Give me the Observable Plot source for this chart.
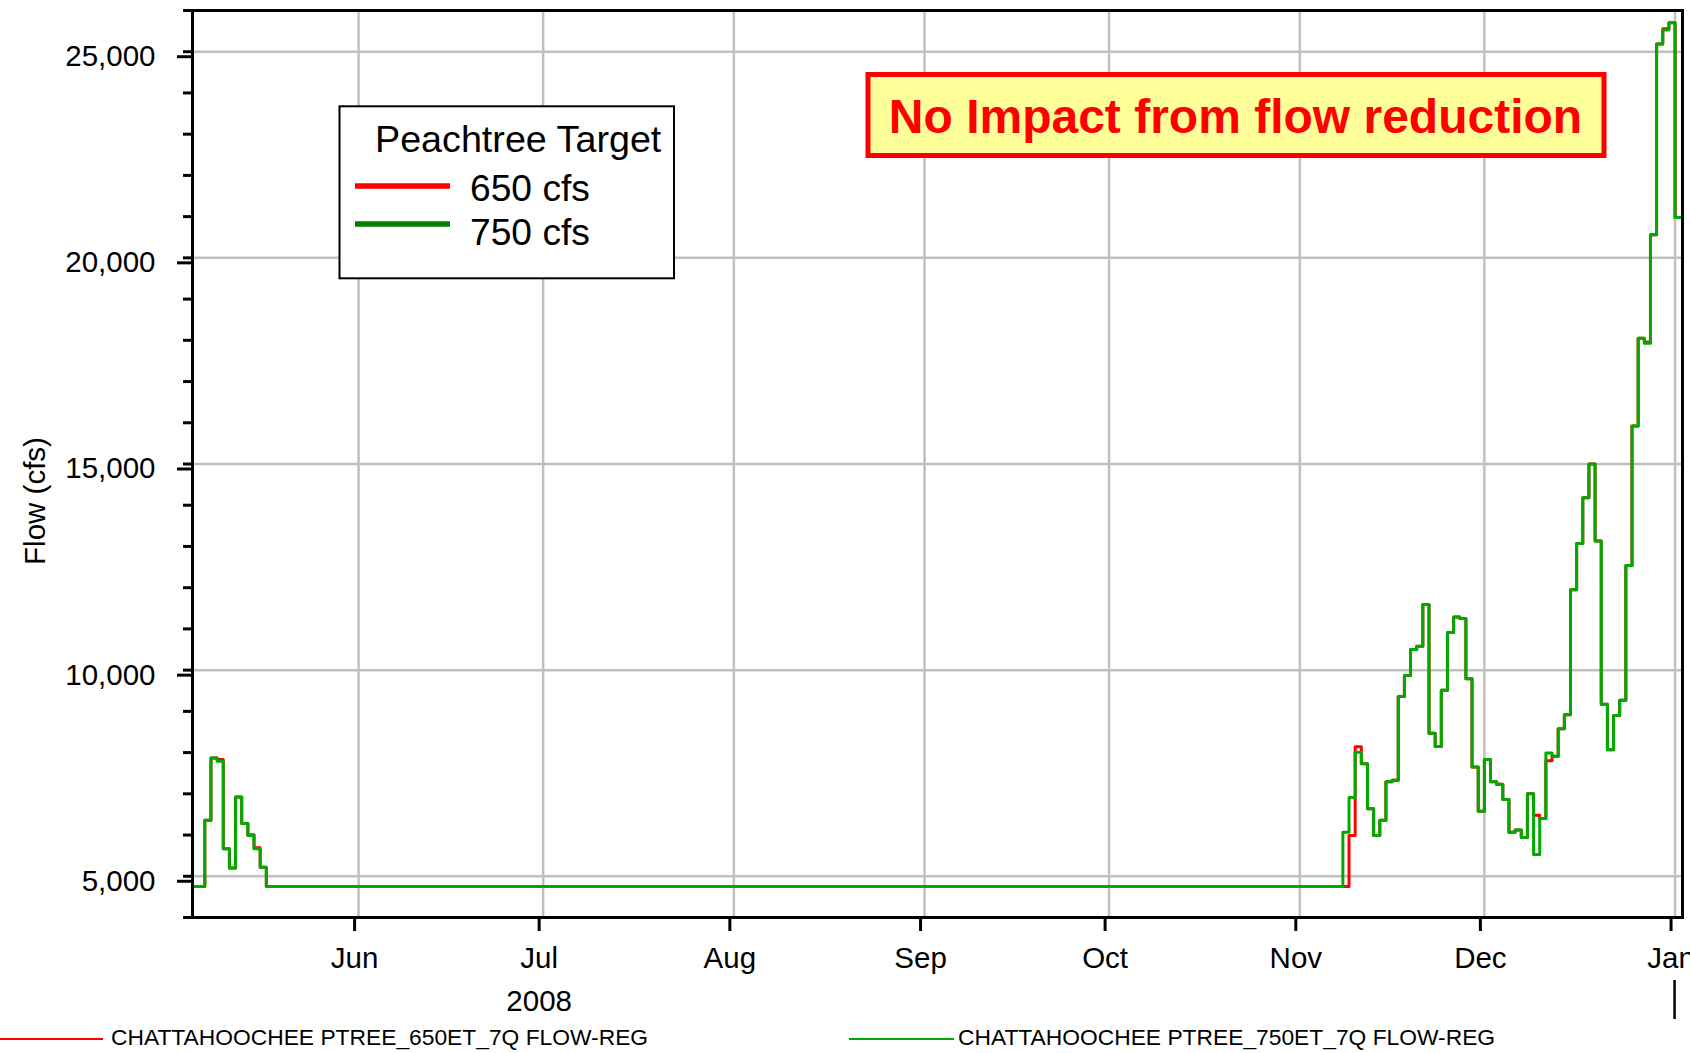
<!DOCTYPE html>
<html>
<head>
<meta charset="utf-8">
<script src="https://cdn.jsdelivr.net/npm/d3@7"></script>
<script src="https://cdn.jsdelivr.net/npm/@observablehq/plot@0.6"></script>
<style>
  html, body { margin: 0; padding: 0; background: #fff; }
  #wrap { position: relative; width: 1690px; height: 1053px; overflow: hidden;
          font-family: "Liberation Sans", Arial, sans-serif; }
  #chart svg { display: block; }
  #legend { position: relative; width: 1690px; height: 31px; }
  #legend .sw { position: absolute; }
  #legend .lbl { position: absolute; top: 0; line-height: 31px; font-size: 22.8px; color: #000; white-space: nowrap; }
</style>
</head>
<body>
<div id="wrap">
  <div id="chart"></div>
  <div id="legend"></div>
</div>
<script>
// ---- data (daily 7Q flow, cfs; each entry starts a step) ----
const dates750 = [
  "2008-05-05","2008-05-07","2008-05-08","2008-05-09","2008-05-10","2008-05-11","2008-05-12",
  "2008-05-13","2008-05-14","2008-05-15","2008-05-16","2008-05-17",
  "2008-11-08","2008-11-09","2008-11-10","2008-11-11","2008-11-12","2008-11-13","2008-11-14",
  "2008-11-15","2008-11-16","2008-11-17","2008-11-18","2008-11-19","2008-11-20","2008-11-21",
  "2008-11-22","2008-11-23","2008-11-24","2008-11-25","2008-11-26","2008-11-27","2008-11-28",
  "2008-11-29","2008-11-30","2008-12-01","2008-12-02","2008-12-03","2008-12-04","2008-12-05",
  "2008-12-06","2008-12-07","2008-12-08","2008-12-09","2008-12-10","2008-12-11","2008-12-12",
  "2008-12-13","2008-12-14","2008-12-15","2008-12-16","2008-12-17","2008-12-18","2008-12-19",
  "2008-12-20","2008-12-21","2008-12-22","2008-12-23","2008-12-24","2008-12-25","2008-12-26",
  "2008-12-27","2008-12-28","2008-12-29","2008-12-30","2008-12-31","2009-01-01","2009-01-03"
];
const flow750 = [
  4750, 6360, 7870, 7790, 5670, 5200, 6920,
  6280, 5990, 5670, 5220, 4750,
  6070, 6910, 8010, 7730, 6640, 5990, 6360,
  7290, 7330, 9360, 9870, 10500, 10580, 11590,
  8470, 8150, 9510, 10910, 11290, 11250, 9790,
  7650, 6580, 7830, 7290, 7230, 6860, 6070,
  6120, 5940, 7000, 5530, 6400, 7990, 7910,
  8580, 8920, 11950, 13070, 14180, 15000, 13130,
  9170, 8070, 8900, 9270, 12540, 15920, 18050,
  17930, 20560, 25190, 25530, 25700, 20980, 20980
];
const dates650 = [
  "2008-05-05","2008-05-07","2008-05-08","2008-05-09","2008-05-10","2008-05-11","2008-05-12",
  "2008-05-13","2008-05-14","2008-05-15","2008-05-16","2008-05-17",
  "2008-11-09","2008-11-10","2008-11-11","2008-11-12","2008-11-13","2008-11-14",
  "2008-11-15","2008-11-16","2008-11-17","2008-11-18","2008-11-19","2008-11-20","2008-11-21",
  "2008-11-22","2008-11-23","2008-11-24","2008-11-25","2008-11-26","2008-11-27","2008-11-28",
  "2008-11-29","2008-11-30","2008-12-01","2008-12-02","2008-12-03","2008-12-04","2008-12-05",
  "2008-12-06","2008-12-07","2008-12-08","2008-12-09","2008-12-10","2008-12-11","2008-12-12",
  "2008-12-13","2008-12-14","2008-12-15","2008-12-16","2008-12-17","2008-12-18","2008-12-19",
  "2008-12-20","2008-12-21","2008-12-22","2008-12-23","2008-12-24","2008-12-25","2008-12-26",
  "2008-12-27","2008-12-28","2008-12-29","2008-12-30","2008-12-31","2009-01-01","2009-01-03"
];
const flow650 = [
  4750, 6360, 7870, 7830, 5670, 5200, 6920,
  6280, 6010, 5690, 5220, 4750,
  5990, 8140, 7730, 6640, 5990, 6360,
  7290, 7330, 9360, 9870, 10500, 10580, 11590,
  8470, 8150, 9510, 10910, 11290, 11250, 9790,
  7650, 6580, 7830, 7290, 7230, 6860, 6070,
  6120, 5940, 7000, 6480, 6400, 7800, 7910,
  8580, 8920, 11950, 13070, 14180, 15000, 13130,
  9170, 8070, 8900, 9270, 12540, 15920, 18050,
  17960, 20560, 25190, 25560, 25700, 20980, 20980
];
const seriesNames = ["CHATTAHOOCHEE PTREE_650ET_7Q FLOW-REG", "CHATTAHOOCHEE PTREE_750ET_7Q FLOW-REG"];
const legendTitle = "Peachtree Target";
const legendLabels = ["650 cfs", "750 cfs"];
const annotationText = "No Impact from flow reduction";
const yTicks = [5000, 10000, 15000, 20000, 25000];
const yMinorTicks = d3.range(4000, 26001, 1000);
const monthTicks = ["2008-06-01","2008-07-01","2008-08-01","2008-09-01","2008-10-01","2008-11-01","2008-12-01","2009-01-01"];
const yearLabel = "2008";
const yearLabelAt = "2008-07-01";
const yearBreak = "2009-01-01";
const xDomain = ["2008-05-05T00:00Z", "2009-01-02T05:00Z"];
const yDomain = [4000, 26000];

// ---- build ----
const s650 = dates650.map((d, i) => ({date: new Date(d), flow: flow650[i]}));
const s750 = dates750.map((d, i) => ({date: new Date(d), flow: flow750[i]}));
const ticksX = monthTicks.map(d => new Date(d));

const FONT = "Liberation Sans, Arial, sans-serif";
const RED = "#ff0000", GREEN = "#00aa00", LEG_GREEN = "#008000";

const plot = Plot.plot({
  width: 1690,
  height: 1022,
  marginLeft: 192,
  marginRight: 8,
  marginTop: 10,
  marginBottom: 105,
  style: {fontFamily: FONT, fontSize: "29.5px", background: "#fff", color: "#000"},
  x: {type: "utc", domain: xDomain.map(d => new Date(d)), label: null},
  y: {domain: yDomain, label: null},
  marks: [
    Plot.gridX(ticksX, {stroke: "#c0c0c0", strokeOpacity: 1, strokeWidth: 2.5}),
    Plot.gridY(yTicks, {stroke: "#c0c0c0", strokeOpacity: 1, strokeWidth: 2.5}),
    Plot.line(s650, {x: "date", y: "flow", curve: "step-after", stroke: RED, strokeWidth: 3, clip: true}),
    Plot.line(s750, {x: "date", y: "flow", curve: "step-after", stroke: GREEN, strokeWidth: 3, clip: true}),
    Plot.frame({stroke: "#000", strokeWidth: 3}),
    Plot.axisY(yMinorTicks, {tickSize: 9, tickFormat: () => "", strokeWidth: 3, label: null}),
    Plot.axisY(yTicks, {tickSize: 15, tickPadding: 22, strokeWidth: 3, dy: 5, fontSize: 29.5,
      tickFormat: d => d3.format(",")(d), label: null}),
    Plot.axisX(ticksX, {tickSize: 14, tickPadding: 16, strokeWidth: 3, fontSize: 29.5, dx: -4,
      tickFormat: d3.utcFormat("%b"), label: null}),
    Plot.text([yearLabel], {x: () => new Date(yearLabelAt), text: d => d, frameAnchor: "bottom",
      lineAnchor: "middle", textAnchor: "middle", dy: 84, dx: -4, fontSize: 29.5, fill: "#000"}),
    Plot.text(["Flow (cfs)"], {text: d => d, frameAnchor: "left", textAnchor: "middle", lineAnchor: "middle",
      dx: -157, dy: 37, rotate: -90, fontSize: 29.5, fill: "#000"})
  ]
});
document.getElementById("chart").appendChild(plot);

// ---- overlays: year break tick, in-plot legend, annotation ----
const svg = d3.select(plot);
const xs = plot.scale("x");
const g = svg.append("g").attr("font-family", FONT).attr("text-anchor", "start");
const xBreak = xs.apply(new Date(yearBreak));
g.append("line").attr("x1", xBreak).attr("x2", xBreak).attr("y1", 980).attr("y2", 1019)
  .attr("stroke", "#000").attr("stroke-width", 2.5);

g.append("rect").attr("x", 339.5).attr("y", 106.3).attr("width", 334.5).attr("height", 172)
  .attr("fill", "#fff").attr("stroke", "#000").attr("stroke-width", 2);
g.append("text").attr("x", 375).attr("y", 152).attr("font-size", 37.7).attr("text-anchor", "start")
  .attr("fill", "#000").text(legendTitle);
[RED, LEG_GREEN].forEach((c, i) => {
  const yy = 186 + i * 38;
  g.append("line").attr("x1", 355).attr("x2", 450).attr("y1", yy).attr("y2", yy)
    .attr("stroke", c).attr("stroke-width", 5.3);
  g.append("text").attr("x", 470).attr("y", 200.5 + i * 44.5).attr("font-size", 37.2).attr("text-anchor", "start")
    .attr("fill", "#000").text(legendLabels[i]);
});
g.append("rect").attr("x", 868).attr("y", 74.5).attr("width", 736).attr("height", 81)
  .attr("fill", "#ffff99").attr("stroke", RED).attr("stroke-width", 5);
g.append("text").attr("x", 1235.5).attr("y", 133).attr("text-anchor", "middle")
  .attr("font-size", 48).attr("font-weight", "bold").attr("fill", RED).text(annotationText);

// ---- bottom series legend ----
const leg = document.getElementById("legend");
const legSpec = [
  {color: RED, x0: 0, x1: 103, tx: 111, w: 2.2},
  {color: GREEN, x0: 849, x1: 954, tx: 958, w: 2.6}
];
legSpec.forEach((s, i) => {
  const sw = document.createElement("div");
  sw.className = "sw";
  sw.style.left = s.x0 + "px";
  sw.style.width = (s.x1 - s.x0) + "px";
  sw.style.top = (17 - s.w / 2) + "px";
  sw.style.height = s.w + "px";
  sw.style.background = s.color;
  leg.appendChild(sw);
  const t = document.createElement("div");
  t.className = "lbl";
  t.style.left = s.tx + "px";
  t.textContent = seriesNames[i];
  leg.appendChild(t);
});
</script>
</body>
</html>
